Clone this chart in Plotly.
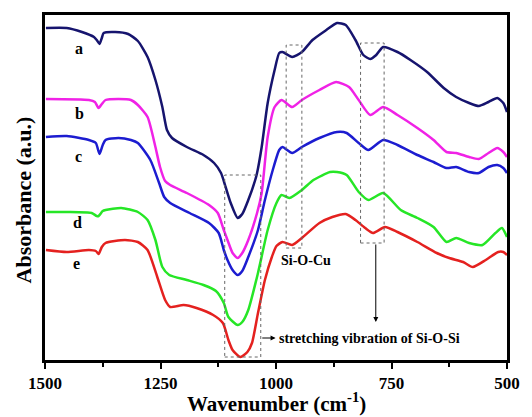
import plotly.graph_objects as go

# ---- data (wavenumber cm-1, absorbance a.u.) ----
wn_a = [1498, 1453, 1420, 1394, 1388, 1382, 1377, 1373, 1348, 1320, 1299, 1278, 1261, 1246, 1236, 1225, 1193, 1157, 1134, 1119, 1109, 1098, 1083, 1073, 1060, 1045, 1041, 1031, 1018, 1003, 993, 986, 965, 944, 921, 891, 868, 849, 828, 811, 796, 783, 768, 737, 709, 673, 637, 610, 582, 561, 540, 521, 508, 500]
ab_a = [3.32, 3.32, 3.28, 3.23, 3.20, 3.16, 3.22, 3.27, 3.28, 3.26, 3.19, 3.03, 2.80, 2.53, 2.30, 2.22, 2.13, 2.05, 1.97, 1.87, 1.73, 1.57, 1.42, 1.46, 1.60, 1.80, 1.87, 2.13, 2.57, 2.90, 3.07, 3.08, 3.03, 3.08, 3.20, 3.30, 3.37, 3.35, 3.20, 3.05, 3.01, 3.05, 3.13, 3.08, 3.00, 2.88, 2.72, 2.63, 2.57, 2.54, 2.58, 2.62, 2.57, 2.48]

wn_b = [1498, 1405, 1392, 1384, 1377, 1369, 1341, 1314, 1299, 1278, 1261, 1251, 1240, 1229, 1193, 1145, 1126, 1113, 1105, 1094, 1083, 1073, 1060, 1041, 1031, 1018, 1003, 988, 965, 944, 906, 870, 842, 821, 796, 768, 737, 694, 659, 631, 610, 582, 561, 540, 521, 508, 500]
ab_b = [2.61, 2.60, 2.58, 2.52, 2.56, 2.60, 2.61, 2.60, 2.55, 2.43, 2.13, 1.93, 1.79, 1.75, 1.67, 1.55, 1.47, 1.30, 1.20, 1.07, 1.02, 1.07, 1.20, 1.47, 1.67, 2.23, 2.53, 2.60, 2.53, 2.60, 2.70, 2.78, 2.73, 2.60, 2.45, 2.53, 2.45, 2.32, 2.20, 2.08, 2.07, 2.03, 2.01, 2.07, 2.12, 2.08, 2.03]

wn_c = [1498, 1453, 1405, 1390, 1382, 1375, 1369, 1341, 1314, 1299, 1272, 1253, 1242, 1229, 1187, 1145, 1124, 1113, 1105, 1094, 1083, 1073, 1060, 1039, 1024, 1007, 993, 986, 965, 944, 906, 868, 847, 821, 800, 768, 737, 694, 659, 631, 610, 582, 561, 540, 521, 508, 500]
ab_c = [2.23, 2.24, 2.20, 2.17, 2.06, 2.15, 2.20, 2.22, 2.20, 2.17, 2.00, 1.77, 1.63, 1.57, 1.47, 1.37, 1.27, 1.10, 1.00, 0.90, 0.85, 0.89, 1.03, 1.30, 1.60, 1.90, 2.10, 2.13, 2.07, 2.13, 2.22, 2.28, 2.27, 2.17, 2.10, 2.20, 2.15, 2.05, 1.98, 1.92, 1.93, 1.88, 1.87, 1.93, 1.95, 1.92, 1.87]

wn_d = [1498, 1453, 1399, 1388, 1384, 1375, 1369, 1335, 1299, 1278, 1261, 1246, 1231, 1193, 1157, 1130, 1113, 1103, 1083, 1073, 1060, 1039, 1018, 999, 988, 971, 944, 919, 883, 868, 847, 821, 800, 768, 730, 694, 659, 631, 610, 582, 553, 525, 511, 500]
ab_d = [1.48, 1.48, 1.47, 1.44, 1.44, 1.49, 1.50, 1.52, 1.48, 1.40, 1.20, 0.93, 0.85, 0.80, 0.75, 0.69, 0.57, 0.43, 0.35, 0.38, 0.50, 0.87, 1.30, 1.57, 1.65, 1.62, 1.70, 1.80, 1.88, 1.88, 1.85, 1.68, 1.60, 1.67, 1.50, 1.42, 1.33, 1.18, 1.22, 1.17, 1.15, 1.27, 1.32, 1.23]

wn_e = [1498, 1453, 1405, 1390, 1384, 1377, 1369, 1327, 1299, 1278, 1257, 1240, 1229, 1200, 1172, 1136, 1115, 1103, 1094, 1077, 1062, 1052, 1039, 1024, 1009, 999, 986, 965, 944, 906, 878, 849, 828, 807, 790, 764, 737, 694, 652, 625, 595, 574, 546, 519, 508, 500]
ab_e = [1.10, 1.08, 1.10, 1.09, 1.06, 1.13, 1.17, 1.20, 1.18, 1.10, 0.83, 0.60, 0.53, 0.55, 0.52, 0.45, 0.37, 0.20, 0.10, 0.03, 0.08, 0.17, 0.47, 0.80, 1.03, 1.14, 1.18, 1.15, 1.22, 1.37, 1.43, 1.46, 1.40, 1.32, 1.27, 1.33, 1.28, 1.18, 1.07, 1.02, 0.98, 0.93, 1.00, 1.08, 1.08, 1.05]

series_names = ["a", "b", "c", "d", "e"]
series_colors = ["#16146e", "#f022e6", "#1c1cd0", "#26e626", "#e4211f"]
label_wn = [1426, 1426, 1428, 1430, 1432]
label_ab = [3.12, 2.47, 2.04, 1.38, 0.97]

x_ticks = [1500, 1250, 1000, 750, 500]
x_minor_ticks = [1375, 1125, 875, 625]

SERIF = "Liberation Serif"

fig = go.Figure()
for name, wn, ab, col in zip(series_names, [wn_a, wn_b, wn_c, wn_d, wn_e],
                             [ab_a, ab_b, ab_c, ab_d, ab_e], series_colors):
    fig.add_trace(go.Scatter(x=wn, y=ab, mode="lines", name=name,
                             line=dict(color=col, width=2.5, shape="spline", smoothing=0.6),
                             showlegend=False, hoverinfo="skip"))

# curve labels
for name, lx, ly in zip(series_names, label_wn, label_ab):
    fig.add_annotation(x=lx, y=ly, text=name, showarrow=False,
                       font=dict(family=SERIF, size=16, color="black", weight="bold"))

# dashed boxes
boxes = [(1111, 1033, 0.03, 1.85), (978, 944, 1.12, 3.15), (817, 766, 1.17, 3.17)]
for x0, x1, y0, y1 in boxes:
    fig.add_shape(type="rect", x0=x0, x1=x1, y0=y0, y1=y1, xref="x", yref="y",
                  line=dict(color="#666666", width=1, dash="dot"))

# arrow down from box 3
fig.add_annotation(x=784, y=0.38, ax=784, ay=1.17, axref="x", ayref="y",
                   xref="x", yref="y", showarrow=True, arrowhead=2, arrowsize=1,
                   arrowwidth=1, arrowcolor="black", text="")
# small arrow from box 1
fig.add_annotation(x=1001, y=0.22, ax=1033, ay=0.22, axref="x", ayref="y",
                   xref="x", yref="y", showarrow=True, arrowhead=2, arrowsize=1,
                   arrowwidth=1, arrowcolor="black", text="")

fig.add_annotation(x=936, y=1.00, text="Si-O-Cu", showarrow=False,
                   font=dict(family=SERIF, size=14, color="black", weight="bold"))
fig.add_annotation(x=997, y=0.22, text="stretching vibration of Si-O-Si", showarrow=False,
                   xanchor="left",
                   font=dict(family=SERIF, size=14, color="black", weight="bold"))

# axis titles
fig.add_annotation(xref="paper", yref="paper", x=0.5, y=-0.124, xanchor="center",
                   yanchor="middle",
                   text="Wavenumber (cm<sup>-1</sup>)", showarrow=False,
                   font=dict(family=SERIF, size=21, color="black", weight="bold"))
fig.add_annotation(xref="paper", yref="paper", x=-0.0465, y=0.464, textangle=-90,
                   xanchor="center", yanchor="middle",
                   text="Absorbance (a.u.)", showarrow=False,
                   font=dict(family=SERIF, size=22, color="black", weight="bold"))

fig.update_layout(
    width=532, height=417,
    margin=dict(l=45, r=14, t=15, b=57),
    paper_bgcolor="white", plot_bgcolor="white",
    xaxis=dict(range=[1500, 500], tickvals=x_ticks, ticks="outside", ticklen=6,
               tickwidth=2, tickcolor="black", showline=True, linewidth=2.5,
               linecolor="black", mirror=True, showgrid=False, zeroline=False,
               tickfont=dict(family=SERIF, size=17, color="black", weight="bold"),
               minor=dict(tickvals=x_minor_ticks, ticks="outside", ticklen=4,
                          tickwidth=2, tickcolor="black", showgrid=False)),
    yaxis=dict(range=[0, 3.45], showticklabels=False, ticks="", showline=True,
               linewidth=2.5, linecolor="black", mirror=True, showgrid=False,
               zeroline=False),
)

fig.write_html("out.html", config={"displayModeBar": False},
               post_script="document.body.style.margin='0';document.body.style.overflow='hidden';")
